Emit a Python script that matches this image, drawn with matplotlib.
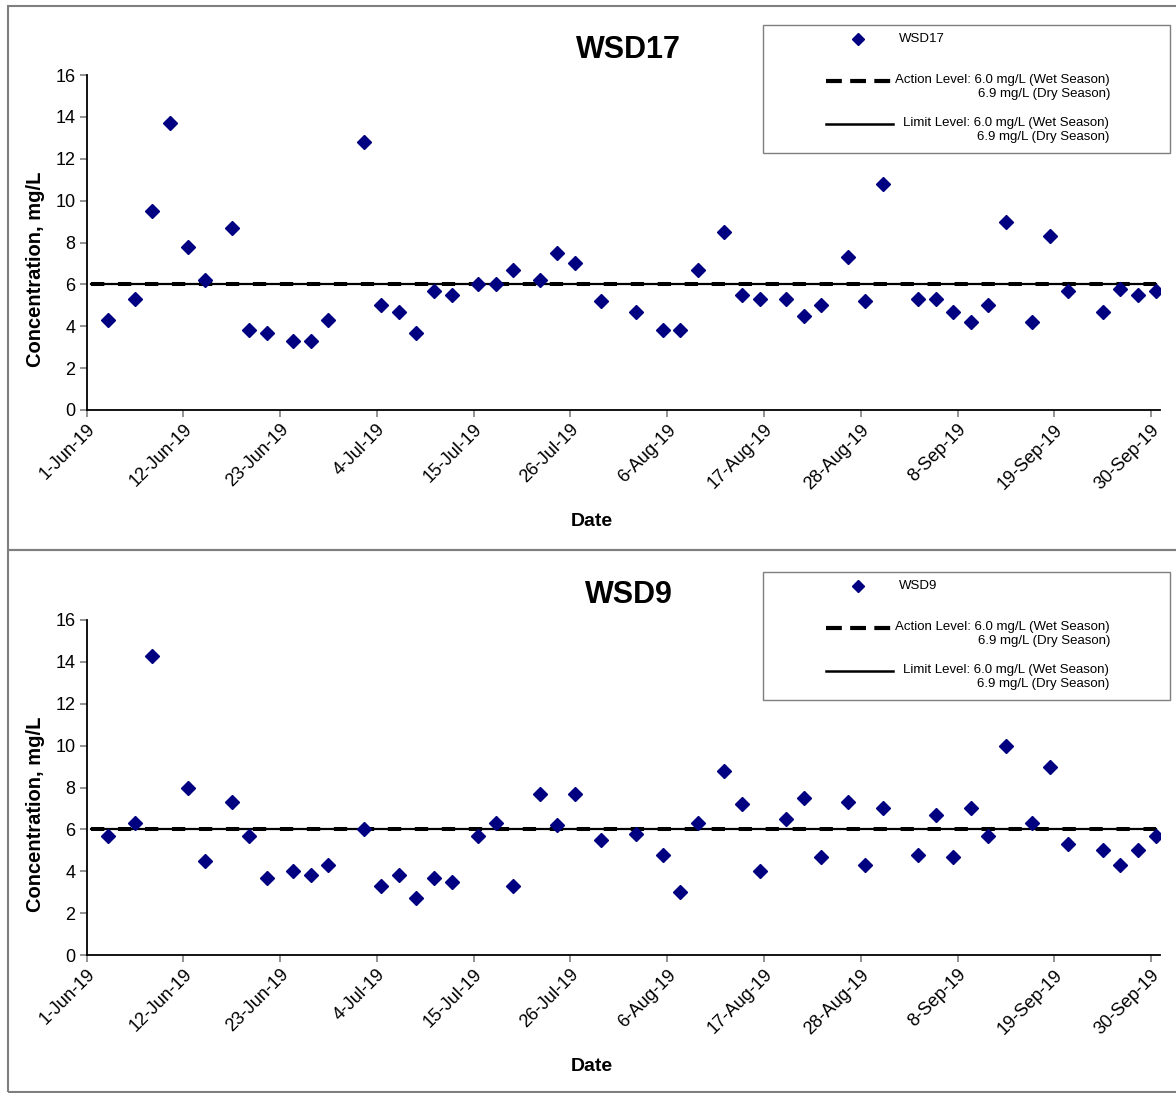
import matplotlib

matplotlib.use("Agg")
import matplotlib.dates as mdates  # noqa: E402
import matplotlib.pyplot as plt  # noqa: E402
import numpy as np  # noqa: E402
import pandas as pd  # noqa: E402
from matplotlib.lines import Line2D  # noqa: E402
from matplotlib.patches import Rectangle  # noqa: E402

plt.rcParams["font.family"] = ["Liberation Sans", "DejaVu Sans"]

W, H = 1176, 1093
NAVY = "#000080"
FRAME = "#7f7f7f"

# sampling dates (all samples taken around midday)
DATES_WSD17 = [
    "2019-06-03", "2019-06-06", "2019-06-08", "2019-06-10", "2019-06-12",
    "2019-06-14", "2019-06-17", "2019-06-19", "2019-06-21", "2019-06-24",
    "2019-06-26", "2019-06-28", "2019-07-02", "2019-07-04", "2019-07-06",
    "2019-07-08", "2019-07-10", "2019-07-12", "2019-07-15", "2019-07-17",
    "2019-07-19", "2019-07-22", "2019-07-24", "2019-07-26", "2019-07-29",
    "2019-08-02", "2019-08-05", "2019-08-07", "2019-08-09", "2019-08-12",
    "2019-08-14", "2019-08-16", "2019-08-19", "2019-08-21", "2019-08-23",
    "2019-08-26", "2019-08-28", "2019-08-30", "2019-09-03", "2019-09-05",
    "2019-09-07", "2019-09-09", "2019-09-11", "2019-09-13", "2019-09-16",
    "2019-09-18", "2019-09-20", "2019-09-24", "2019-09-26", "2019-09-28",
    "2019-09-30",
]
VALUES_WSD17 = [
    4.3, 5.3, 9.5, 13.7, 7.8, 6.2, 8.7, 3.8, 3.7, 3.3,
    3.3, 4.3, 12.8, 5.0, 4.7, 3.7, 5.7, 5.5, 6.0, 6.0,
    6.7, 6.2, 7.5, 7.0, 5.2, 4.7, 3.8, 3.8, 6.7, 8.5,
    5.5, 5.3, 5.3, 4.5, 5.0, 7.3, 5.2, 10.8, 5.3, 5.3,
    4.7, 4.2, 5.0, 9.0, 4.2, 8.3, 5.7, 4.7, 5.8, 5.5,
    5.7,
]

# WSD9 has no sample on 10-Jun
DATES_WSD9 = [d for d in DATES_WSD17 if d != "2019-06-10"]
VALUES_WSD9 = [
    5.7, 6.3, 14.3, 8.0, 4.5, 7.3, 5.7, 3.7, 4.0, 3.8,
    4.3, 6.0, 3.3, 3.8, 2.7, 3.7, 3.5, 5.7, 6.3, 3.3,
    7.7, 6.2, 7.7, 5.5, 5.8, 4.8, 3.0, 6.3, 8.8, 7.2,
    4.0, 6.5, 7.5, 4.7, 7.3, 4.3, 7.0, 4.8, 6.7, 4.7,
    7.0, 5.7, 10.0, 6.3, 9.0, 5.3, 5.0, 4.3, 5.0, 5.7,
]

ACTION_LEVEL = 6.0
LIMIT_LEVEL = 6.0
X_START, X_END = "2019-06-01", "2019-10-01"
TICK_DATES = [
    "2019-06-01", "2019-06-12", "2019-06-23", "2019-07-04", "2019-07-15",
    "2019-07-26", "2019-08-06", "2019-08-17", "2019-08-28", "2019-09-08",
    "2019-09-19", "2019-09-30",
]

ACTION_LABEL = "Action Level: 6.0 mg/L (Wet Season)\n6.9 mg/L (Dry Season)"
LIMIT_LABEL = "Limit Level: 6.0 mg/L (Wet Season)\n6.9 mg/L (Dry Season)"


def fx(px):
    return px / W


def fy(py):
    return 1 - py / H


def draw_legend(fig, name, top):
    """Excel-style legend box drawn in figure pixels, top edge at `top`."""
    fig.add_artist(Rectangle((fx(763), fy(top + 128)), fx(407), 128 / H,
                             transform=fig.transFigure, fill=False,
                             edgecolor=FRAME, lw=1.0))
    fig.add_artist(Line2D([fx(858)], [fy(top + 14)], transform=fig.transFigure,
                          marker="D", ms=6, color=NAVY, ls="none"))
    fig.text(fx(899), fy(top + 14), name, fontsize=9.5, va="center")
    dash = Line2D([fx(826), fx(893)], [fy(top + 56)] * 2,
                  transform=fig.transFigure, color="black", lw=3.0)
    dash.set_dashes((3.8, 2.0))
    fig.add_artist(dash)
    fig.text(fx(1110), fy(top + 49), ACTION_LABEL, fontsize=9.5,
             ha="right", va="top", multialignment="right", linespacing=1.25)
    fig.add_artist(Line2D([fx(826), fx(893)], [fy(top + 99)] * 2,
                          transform=fig.transFigure, color="black", lw=1.8))
    fig.text(fx(1109), fy(top + 92), LIMIT_LABEL, fontsize=9.5,
             ha="right", va="top", multialignment="right", linespacing=1.25)


def draw_panel(fig, rect, name, dates, values, frame_top, frame_bottom):
    fig.add_artist(Rectangle((fx(7.5), fy(frame_bottom)), fx(1200),
                             (frame_bottom - frame_top) / H,
                             transform=fig.transFigure, fill=False,
                             edgecolor=FRAME, lw=1.5))
    ax = fig.add_axes(rect)
    t = pd.to_datetime(dates) + pd.Timedelta(hours=12)
    line_x = pd.to_datetime([X_START, dates[-1]]) + pd.Timedelta(hours=12)
    ax.plot(line_x, [LIMIT_LEVEL] * 2, color="black", lw=1.6, zorder=2)
    action, = ax.plot(line_x, [ACTION_LEVEL] * 2, color="black", lw=2.9,
                      zorder=2)
    action.set_dashes((3.3, 3.4))
    ax.plot(t, values, ls="none", marker="D", ms=7.5, color=NAVY, zorder=3)

    ax.set_xlim(pd.Timestamp(X_START), pd.Timestamp(X_END))
    ax.set_ylim(0, 16)
    ax.set_yticks(np.arange(0, 17, 2))
    ax.set_xticks(pd.to_datetime(TICK_DATES))
    ax.xaxis.set_major_formatter(mdates.DateFormatter("%-d-%b-%y"))
    ax.tick_params(direction="out", length=5, width=1.2, color="#808080",
                   labelsize=13, pad=3)
    for lab in ax.get_xticklabels():
        lab.set_rotation(45)
        lab.set_ha("right")
        lab.set_rotation_mode("anchor")
    for side in ("top", "right"):
        ax.spines[side].set_visible(False)
    for side in ("left", "bottom"):
        ax.spines[side].set_linewidth(1.3)
    ax.set_ylabel("Concentration, mg/L", fontsize=14.5, fontweight="bold")
    ax.yaxis.set_label_coords(-0.039, 0.42)
    ax.set_xlabel("Date", fontsize=14, fontweight="bold")
    ax.xaxis.set_label_coords(0.471, -0.308)
    ax.set_title(name, fontsize=22, fontweight="bold", pad=12, x=0.505)
    return ax


fig = plt.figure(figsize=(W / 100, H / 100), dpi=100)

draw_panel(fig, [fx(86.5), fy(410), fx(1160 - 86.5), 335 / H],
           "WSD17", DATES_WSD17, VALUES_WSD17, 6, 550)
draw_legend(fig, "WSD17", 25)

draw_panel(fig, [fx(86.5), fy(955), fx(1160 - 86.5), 335 / H],
           "WSD9", DATES_WSD9, VALUES_WSD9, 550, 1092)
draw_legend(fig, "WSD9", 572)

fig.savefig("out.png", dpi=100)
